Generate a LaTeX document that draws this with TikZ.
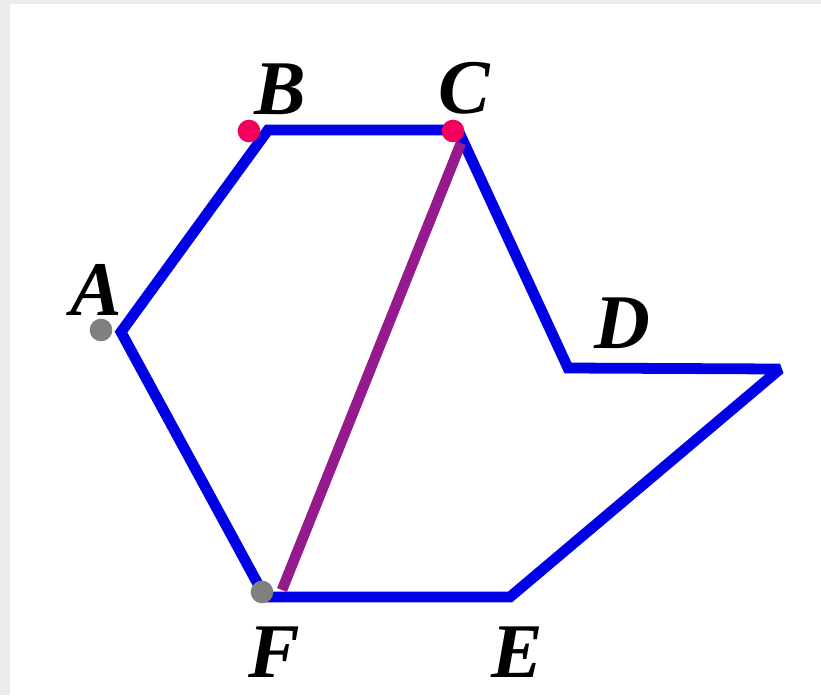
\documentclass[tikz,border=0pt]{standalone}
\usepackage{fontspec}
\setmainfont{Liberation Serif}
\definecolor{edgeblue}{HTML}{0000E6}
\definecolor{diagpurple}{HTML}{951A8D}
\definecolor{dotpink}{HTML}{F2005E}
\definecolor{dotgray}{HTML}{808080}
\definecolor{bggray}{HTML}{ECECEC}
\begin{document}
\begin{tikzpicture}[x=0.03cm,y=-0.03cm,
  edge/.style={draw=edgeblue,line width=9.2pt,line join=miter,miter limit=2},
  diag/.style={draw=diagpurple,line width=9pt},
  pinkdot/.style={circle,fill=dotpink,inner sep=0pt,minimum size=0.68cm},
  graydot/.style={circle,fill=dotgray,inner sep=0pt,minimum size=0.68cm},
  lbl/.style={font=\fontsize{66}{66}\selectfont\bfseries\itshape,inner sep=0pt}]
\fill[bggray] (0,0) rectangle (821,695);
\fill[white] (10,4) rectangle (821,695);
\useasboundingbox (0,0) rectangle (821,695);
\coordinate (A) at (121,332);
\coordinate (B) at (268,130);
\coordinate (C) at (458,130);
\coordinate (D) at (568,368);
\coordinate (R) at (780,369);
\coordinate (E) at (510,597);
\coordinate (F) at (265,597);
\coordinate (P1) at (461,143);
\coordinate (P2) at (282,590);
\draw[edge] (A) -- (B) -- (C) -- (D) -- (R) -- (E) -- (F) -- cycle;
\draw[diag] (P1) -- (P2);
\node[pinkdot] (dB) at (249,131) {};
\node[pinkdot] (dC) at (453,131) {};
\node[graydot] (dA) at (101,330) {};
\node[graydot] (dF) at (262,592) {};
\node[lbl] (lA) at (96,290) {A};
\node[lbl] (lB) at (280,89) {B};
\node[lbl] (lC) at (464,88) {C};
\node[lbl] (lD) at (622,323) {D};
\node[lbl] (lF) at (274,652) {F};
\node[lbl] (lE) at (517,652) {E};
\end{tikzpicture}
\end{document}
